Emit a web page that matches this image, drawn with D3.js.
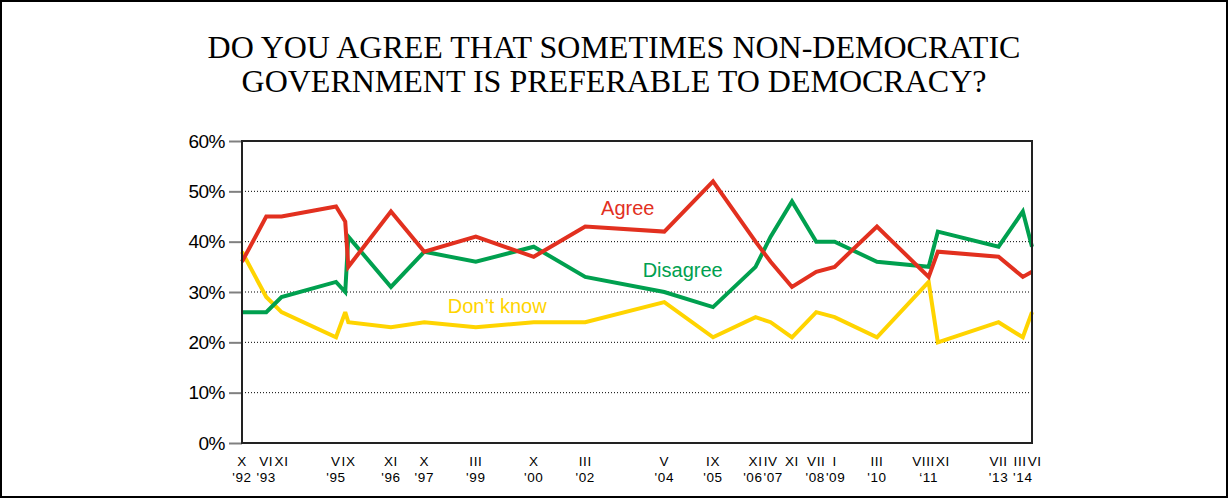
<!DOCTYPE html>
<html>
<head>
<meta charset="utf-8">
<script src="https://cdn.jsdelivr.net/npm/d3@7"></script>
<style>
  html, body { margin: 0; padding: 0; background: #fff; }
  svg { display: block; }
</style>
</head>
<body>
<svg id="chart" width="1228" height="498"></svg>
<script>
// ---- Data ----
const dates = ["1992-10","1993-06","1993-11","1995-05","1995-08","1995-09","1996-11","1997-10","1999-03","2000-10","2002-03","2004-05","2005-09","2006-11","2007-04","2007-11","2008-07","2009-01","2010-03","2011-08","2011-11","2013-07","2014-03","2014-06"];
const monthLabels = ["X","VI","XI","V","","IX","XI","X","III","X","III","V","IX","XI","IV","XI","VII","I","III","VIII","XI","VII","III","VI"];
const yearLabels = ["'92","'93","","'95","","","'96","'97","'99","'00","'02","'04","'05","'06","'07","","'08","'09","'10","\u201811","","'13","'14",""];
const agree    = [36,45,45,47,44,35,46,38,41,37,43,42,52,40,36,31,34,35,43,33,38,37,33,34];
const disagree = [26,26,29,32,30,41,31,38,36,39,33,30,27,35,41,48,40,40,36,35,42,39,46,39];
const dontKnow = [38,29,26,21,26,24,23,24,23,24,24,28,21,25,24,21,26,25,21,32,20,24,21,26];
const yTicks = [0,10,20,30,40,50,60];
const titleLines = ["DO YOU AGREE THAT SOMETIMES NON-DEMOCRATIC", "GOVERNMENT IS PREFERABLE TO DEMOCRACY?"];
const seriesNames = ["Agree","Disagree","Don\u2019t know"];

// ---- Layout ----
const svg = d3.select("#chart");
const W = 1228, H = 498;
const plot = {left: 242, right: 1032, top: 141, bottom: 443};
const colors = {agree: "#E2301F", disagree: "#00A04F", dk: "#FFD400"};
const parse = d3.utcParse("%Y-%m");
const pts = dates.map(parse);

const x = d3.scaleUtc().domain([pts[0], pts[pts.length-1]]).range([plot.left, plot.right]);
const y = d3.scaleLinear().domain([0, 60]).range([plot.bottom, plot.top]);

// outer frame
svg.append("rect").attr("x",1).attr("y",1).attr("width",W-2).attr("height",H-2)
  .attr("fill","#fff").attr("stroke","#000").attr("stroke-width",2);

// title
const title = svg.append("text").attr("x", 614).attr("y", 57.5)
  .attr("text-anchor","middle")
  .attr("font-family","'Liberation Serif','Times New Roman',serif")
  .attr("font-size", 32).attr("fill","#000");
titleLines.forEach((t,i) => title.append("tspan").attr("x",614).attr("dy", i===0?0:34.5).text(t));

// gridlines (dotted)
svg.append("g").selectAll("line").data(yTicks.filter(d => d>0 && d<60)).join("line")
  .attr("x1", plot.left).attr("x2", plot.right)
  .attr("y1", d => y(d)).attr("y2", d => y(d))
  .attr("stroke","#000").attr("stroke-width",1).attr("stroke-dasharray","1,2");

// y axis
const yAxis = d3.axisLeft(y).tickValues(yTicks).tickFormat(d => d + "%").tickSize(13).tickPadding(4);
const gy = svg.append("g").attr("transform", `translate(${plot.left},0)`).call(yAxis);
gy.select(".domain").remove();
gy.selectAll(".tick line").attr("stroke","#808080").attr("stroke-width",2);
gy.selectAll(".tick text").attr("font-family","'Liberation Sans',Arial,sans-serif")
  .attr("font-size",19).attr("fill","#000").attr("letter-spacing","-0.5");

// lines
const mk = vals => d3.line().x((d,i) => x(pts[i])).y(d => y(d))(vals);
[[dontKnow, colors.dk],[disagree, colors.disagree],[agree, colors.agree]].forEach(([v,c]) => {
  svg.append("path").attr("d", mk(v)).attr("fill","none").attr("stroke",c)
    .attr("stroke-width",4).attr("stroke-linejoin","miter").attr("stroke-miterlimit",3);
});

// plot frame
svg.append("rect").attr("x",plot.left).attr("y",plot.top)
  .attr("width",plot.right-plot.left).attr("height",plot.bottom-plot.top)
  .attr("fill","none").attr("stroke","#222").attr("stroke-width",2);

// series labels
const lab = [
  {t: seriesNames[0], d: "2003-05", v: 45.2, c: colors.agree},
  {t: seriesNames[1], d: "2004-11", v: 33.0, c: colors.disagree},
  {t: seriesNames[2], d: "1999-10", v: 25.9, c: colors.dk}
];
svg.append("g").selectAll("text").data(lab).join("text")
  .attr("x", d => x(parse(d.d))).attr("y", d => y(d.v))
  .attr("text-anchor","middle").attr("fill", d => d.c)
  .attr("font-family","'Liberation Sans',Arial,sans-serif").attr("font-size",20)
  .text(d => d.t);

// x labels with simple collision avoidance
function placeRow(labels, yPos) {
  const g = svg.append("g");
  const nodes = labels.map((t,i) => ({t, i, cx: x(pts[i])})).filter(d => d.t);
  const texts = g.selectAll("text").data(nodes).join("text")
    .attr("y", yPos).attr("text-anchor","middle")
    .attr("font-family","'Liberation Sans',Arial,sans-serif").attr("font-size",13.5)
    .attr("fill","#000").attr("letter-spacing", 0.6)
    .text(d => d.t);
  texts.each(function(d){ d.w = this.getComputedTextLength(); });
  for (let it = 0; it < 30; it++) {
    for (let k = 1; k < nodes.length; k++) {
      const a = nodes[k-1], b = nodes[k];
      const overlap = (a.cx + a.w/2 + 1) - (b.cx - b.w/2);
      if (overlap > 0) { a.cx -= overlap/2; b.cx += overlap/2; }
    }
  }
  texts.attr("x", d => d.cx);
}
placeRow(monthLabels, 466);
placeRow(yearLabels, 482);
</script>
</body>
</html>
